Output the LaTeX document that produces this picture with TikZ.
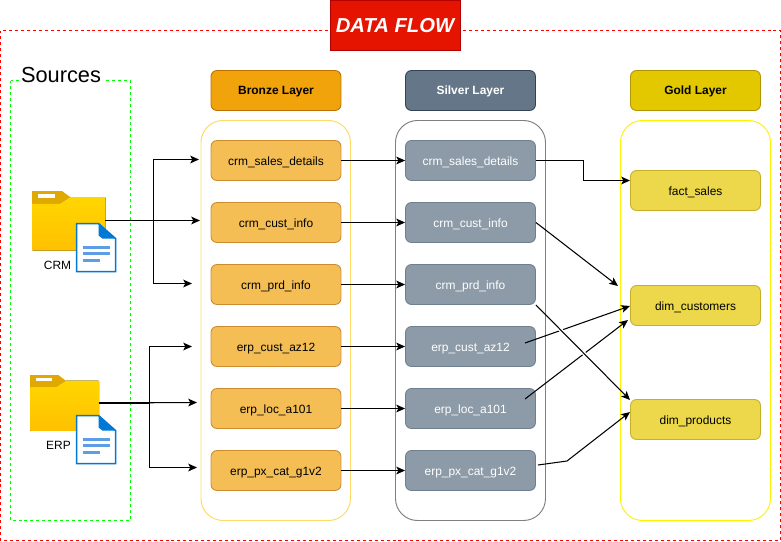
\documentclass[tikz,border=0pt]{standalone}
\usepackage{fontspec}
\setmainfont{Liberation Sans}
\usetikzlibrary{arrows.meta}
\definecolor{bronzehead}{HTML}{F0A30A}
\definecolor{bronzeedge}{HTML}{BD7000}
\definecolor{bronzebox}{HTML}{F4BE54}
\definecolor{bronzeline}{HTML}{CB8D30}
\definecolor{bronzewrap}{HTML}{FFD966}
\definecolor{silverhead}{HTML}{647687}
\definecolor{silveredge}{HTML}{314354}
\definecolor{silverbox}{HTML}{8D9BA8}
\definecolor{silverline}{HTML}{6F7F8E}
\definecolor{goldhead}{HTML}{E3C800}
\definecolor{goldedge}{HTML}{B09500}
\definecolor{goldbox}{HTML}{ECD84A}
\definecolor{goldline}{HTML}{C8AF2A}
\definecolor{titlered}{HTML}{E51400}
\definecolor{titleedge}{HTML}{B20000}
\definecolor{docblue}{HTML}{0078D4}
\definecolor{doclight}{HTML}{5E9CE6}
\definecolor{foldertop}{HTML}{FFD600}
\definecolor{folderbot}{HTML}{FFC000}
\definecolor{foldertab}{HTML}{E0A800}
\tikzset{
  txt/.style={font=\fontsize{6.8}{8}\selectfont},
  box/.style={draw,rounded corners=0.12cm,minimum width=2.6cm,minimum height=0.8cm,inner sep=0pt,line width=0.5pt,txt,text height=6pt,text depth=0.6pt},
  head/.style={box,font=\fontsize{6.8}{8}\selectfont\bfseries,text height=5.9pt,text depth=0.8pt},
  bronzehd/.style={head,fill=bronzehead,draw=bronzeedge},
  silverhd/.style={head,fill=silverhead,draw=silveredge,text=white},
  goldhd/.style={head,fill=goldhead,draw=goldedge},
  bronzend/.style={box,fill=bronzebox,draw=bronzeline},
  silvernd/.style={box,fill=silverbox,draw=silverline,text=white},
  goldnd/.style={box,fill=goldbox,draw=goldline},
  wrapbox/.style={rounded corners=0.44cm,line width=0.55pt},
  flow/.style={line width=0.6pt,-{Stealth[length=5pt,width=4.4pt,inset=1.2pt]}},
  jump/.style={preaction={draw=white,line width=2.2pt,-,shorten <=15pt,shorten >=15pt}},
  folder/.pic={
    \fill[top color=foldertop,bottom color=folderbot,rounded corners=0.5pt] (0,12.5) -- (28,12.5) -- (38,6) -- (73.5,6) -- (73.5,59.5) -- (0,59.5) -- cycle;
    \fill[foldertab] (0,0) -- (30,0) -- (38,6) -- (28,12.5) -- (0,12.5) -- cycle;
    \fill[white] (6,3) rectangle (23,6.5);
  },
  docicon/.pic={
    \draw[fill=white,draw=docblue,line width=0.9pt] (0,0) -- (22,0) -- (39,15) -- (39,48) -- (0,48) -- cycle;
    \fill[docblue] (22,0) -- (39,15) -- (26,15) -- (22,12) -- cycle;
    \draw[doclight,line width=1.7pt] (6,24) -- (33,24);
    \draw[doclight,line width=1.7pt] (6,30) -- (33,30);
    \draw[doclight,line width=1.7pt] (6,36.5) -- (23,36.5);
  },
}
\begin{document}
\begin{tikzpicture}[x=0.02cm,y=-0.02cm]
\useasboundingbox (0,0) rectangle (781,541);
% frames
\draw[red,line width=0.6pt,dash pattern=on 1.7pt off 1.7pt] (0.5,30.5) rectangle (780.5,540.5);
\draw[green,line width=0.6pt,dash pattern=on 1.7pt off 1.7pt] (10.5,80.5) rectangle (130.5,520.5);
\node[fill=white,inner sep=1pt,font=\fontsize{12.4}{14}\selectfont] (sources) at (61,75) {Sources};
\node[draw=titleedge,fill=titlered,text=white,minimum width=2.6cm,minimum height=1cm,inner sep=0pt,font=\fontsize{11.5}{13}\selectfont\bfseries\itshape,text height=7.8pt,text depth=0pt] (title) at (395,25.5) {DATA FLOW};
\draw[bronzewrap,wrapbox] (201,120.5) rectangle (350.5,520.5);
\draw[gray,wrapbox] (395.5,120.5) rectangle (545.5,520.5);
\draw[yellow,wrapbox] (620.5,120.5) rectangle (770.5,520.5);
% layers
\node[bronzehd] (bronze) at (276,90.5) {Bronze Layer};
\node[silverhd] (silver) at (470.5,90.5) {Silver Layer};
\node[goldhd] (gold) at (695.5,90.5) {Gold Layer};
\node[bronzend] (b1) at (276,160.5) {crm\_sales\_details};
\node[bronzend] (b2) at (276,222.5) {crm\_cust\_info};
\node[bronzend] (b3) at (276,284.5) {crm\_prd\_info};
\node[bronzend] (b4) at (276,346.5) {erp\_cust\_az12};
\node[bronzend] (b5) at (276,408.5) {erp\_loc\_a101};
\node[bronzend] (b6) at (276,470.5) {erp\_px\_cat\_g1v2};
\node[silvernd] (s1) at (470.5,160.5) {crm\_sales\_details};
\node[silvernd] (s2) at (470.5,222.5) {crm\_cust\_info};
\node[silvernd] (s3) at (470.5,284.5) {crm\_prd\_info};
\node[silvernd] (s4) at (470.5,346.5) {erp\_cust\_az12};
\node[silvernd] (s5) at (470.5,408.5) {erp\_loc\_a101};
\node[silvernd] (s6) at (470.5,470.5) {erp\_px\_cat\_g1v2};
\node[goldnd] (g1) at (695.5,190.5) {fact\_sales};
\node[goldnd] (g2) at (695.5,305.5) {dim\_customers};
\node[goldnd] (g3) at (695.5,419.5) {dim\_products};
% sources
\pic at (32,191) {folder};
\pic[scale=0.94] at (30,375) {folder};
\pic at (76.7,223.7) {docicon};
\pic at (76.7,415.7) {docicon};
\node[txt] (crm) at (57.5,265) {CRM};
\node[txt] (erp) at (58.5,445.5) {ERP};
% free ends
\coordinate (crmout) at (105,220.5);
\coordinate (crmbus) at (153.5,220.5);
\coordinate (crma) at (199,159.5);
\coordinate (crmb) at (200,220.5);
\coordinate (crmc) at (192,283.5);
\coordinate (erpout) at (99,403);
\coordinate (erpbus) at (149.5,403);
\coordinate (erpa) at (192,346.5);
\coordinate (erpb) at (197,402.5);
\coordinate (erpc) at (197,467.5);
\coordinate (s1bend) at (583.5,160.5);
\coordinate (s4out) at (525,343);
\coordinate (s5out) at (525,399);
\coordinate (s6out) at (538,465);
\coordinate (s6bend) at (567,461);
\coordinate (g1a) at (630,180.5);
\coordinate (g2a) at (618,286);
\coordinate (g2b) at (630,306);
\coordinate (g2c) at (628,320);
\coordinate (g3a) at (630,400);
\coordinate (g3b) at (630,412);
% source arrows
\draw[flow] (crmout) -- (crmb);
\draw[flow] (crmout) -- (crmbus) |- (crma);
\draw[flow] (crmout) -- (crmbus) |- (crmc);
\draw[flow] (erpout) -- (erpb);
\draw[flow] (erpout) -- (erpbus) |- (erpa);
\draw[flow] (erpout) -- (erpbus) |- (erpc);
% bronze to silver
\draw[flow] (b1) -- (s1);
\draw[flow] (b2) -- (s2);
\draw[flow] (b3) -- (s3);
\draw[flow] (b4) -- (s4);
\draw[flow] (b5) -- (s5);
\draw[flow] (b6) -- (s6);
% silver to gold
\draw[flow] (s1.east) -- (s1bend) |- (g1a);
\draw[flow] (s2.east) -- (g2a);
\draw[flow] (s4out) -- (g2b);
\draw[flow] (s5out) -- (g2c);
\draw[flow,jump] (s3.south east) -- (g3a);
\draw[flow] (s6out) -- (s6bend) -- (g3b);
\end{tikzpicture}
\end{document}
